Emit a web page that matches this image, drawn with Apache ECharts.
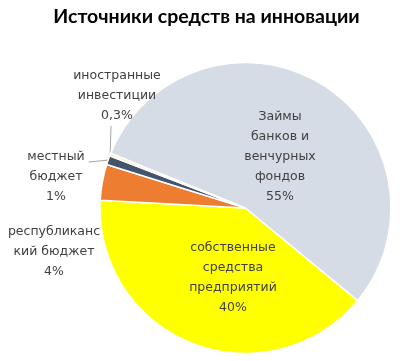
<!DOCTYPE html>
<html><head><meta charset="utf-8">
<script src="https://cdn.jsdelivr.net/npm/echarts@6/dist/echarts.min.js"></script>
<style>html,body{margin:0;padding:0;background:#fff}#c{width:413px;height:361px}</style>
</head><body><div id="c"></div>
<script>
const titleText = 'Источники средств на инновации';
const categories = ['собственные средства предприятий', 'республиканский бюджет', 'местный бюджет', 'иностранные инвестиции', 'Займы банков и венчурных фондов'];
const labelNames = ['собственные\nсредства\nпредприятий', 'республиканс\nкий бюджет', 'местный\nбюджет', 'иностранные\nинвестиции', 'Займы\nбанков и\nвенчурных\nфондов'];
const values = [40, 4, 1, 0.3, 55];
const colors = ['#FFFF00', '#ED7D31', '#44546A', '#FFE699', '#D6DCE5'];

// label box anchor spots, vertical alignment and paddings (style only)
const labelSpots = [[233, 278], [54, 252], [58, 117], [111, 96], [280, 157]];
const labelVAlign = ['middle', 'middle', 'top', 'middle', 'middle'];
const labelPads = [0, 0, [30, 4, 0, 0], [0, 0, 0, 12], 0];
const showLine = [false, false, true, true, false];

const chart = echarts.init(document.getElementById('c'), null, {renderer: 'canvas'});
chart.setOption({
  animation: false,
  backgroundColor: '#fff',
  title: {
    text: titleText, left: 'center', top: 2,
    textStyle: {fontFamily: 'Lato', fontWeight: 'bold', fontSize: 19.5, color: '#000'}
  },
  series: [{
    type: 'pie',
    center: [245.5, 208],
    radius: 145.5,
    startAngle: -39.5,
    clockwise: true,
    avoidLabelOverlap: false,
    itemStyle: {borderColor: '#fff', borderWidth: 1.5},
    label: {
      show: true,
      position: 'outside',
      fontFamily: 'DejaVu Sans',
      fontSize: 12.5,
      lineHeight: 20,
      color: '#404040',
      align: 'center',
      formatter: p => labelNames[p.dataIndex] + '\n' + String(p.value).replace('.', ',') + '%'
    },
    labelLine: {show: true, length: 0, length2: 0, smooth: false, lineStyle: {color: '#A6A6A6', width: 1}},
    labelLayout: p => ({
      x: labelSpots[p.dataIndex][0],
      y: labelSpots[p.dataIndex][1],
      align: 'center',
      verticalAlign: labelVAlign[p.dataIndex]
    }),
    data: categories.map((c, i) => ({
      name: c,
      value: values[i],
      itemStyle: {color: colors[i]},
      label: {padding: labelPads[i]},
      labelLine: {show: showLine[i]}
    }))
  }]
});
</script></body></html>
